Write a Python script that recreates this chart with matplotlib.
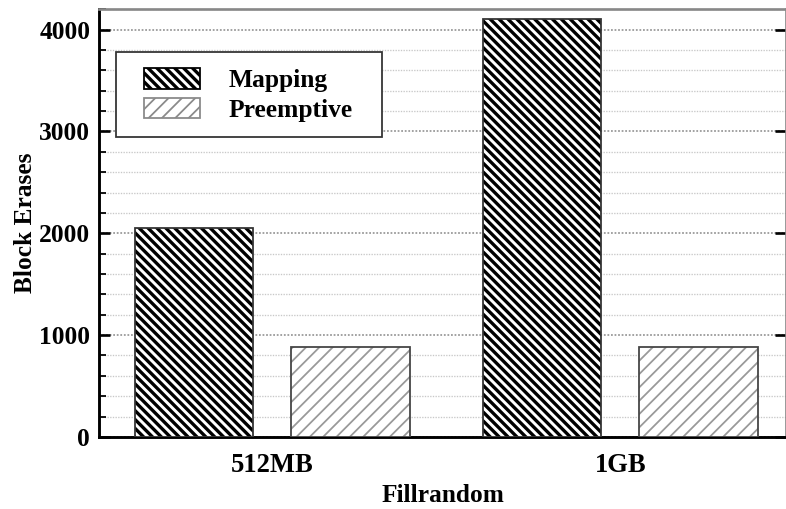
import numpy as np
import matplotlib
matplotlib.use('Agg')
import matplotlib.pyplot as plt
from matplotlib.patches import Patch, Rectangle
from matplotlib.ticker import MultipleLocator

plt.rcParams['font.family'] = ['Liberation Serif', 'DejaVu Serif']
plt.rcParams['font.weight'] = 'bold'

workloads = ['512MB', '1GB']
mapping = [2055, 4105]
preemptive = [880, 885]
series = ['Mapping', 'Preemptive']

MAP_HATCH = '\\' * 6
PRE_HATCH = '/' * 4

fig = plt.figure(figsize=(786 / 160, 509 / 160), dpi=160)
ax = fig.add_axes([0.126, 0.1415, 0.874, 0.8405])

x = np.arange(len(workloads))
w = 0.34
off = 0.225

# hatched fills, border drawn separately so hatch and edge colours can differ
with plt.rc_context({'hatch.linewidth': 1.5}):
    b1 = ax.bar(x - off, mapping, w, color='white', edgecolor='black',
                hatch=MAP_HATCH, linewidth=0, zorder=3)
with plt.rc_context({'hatch.linewidth': 0.8}):
    b2 = ax.bar(x + off, preemptive, w, color='white', edgecolor='#999999',
                hatch=PRE_HATCH, linewidth=0, zorder=3)
for bars, lw in ((b1, 1.5), (b2, 0.8)):
    for p in bars:
        if hasattr(p, 'set_hatch_linewidth'):
            p.set_hatch_linewidth(lw)
ax.bar(x - off, mapping, w, fill=False, edgecolor='#333333', linewidth=0.8, zorder=4)
ax.bar(x + off, preemptive, w, fill=False, edgecolor='#444444', linewidth=0.8, zorder=4)

ax.set_xlim(-0.498, 1.476)
ax.set_ylim(0, 4200)
ax.yaxis.set_major_locator(MultipleLocator(1000))
ax.yaxis.set_minor_locator(MultipleLocator(200))
ax.grid(axis='y', which='minor', linestyle=(0, (1, 1)), color='#c8c8c8', linewidth=0.6, zorder=0)
ax.grid(axis='y', which='major', linestyle=(0, (1, 1)), color='#999999', linewidth=0.8, zorder=0)

ax.set_xticks(x)
ax.set_xticklabels(workloads)
ax.tick_params(axis='x', length=0, pad=7, labelsize=12)
ax.tick_params(axis='y', which='major', direction='in', length=5, width=1.2,
               right=True, pad=4, labelsize=11.5)
ax.tick_params(axis='y', which='minor', direction='in', length=3, width=0.8)

for s in ('left', 'bottom'):
    ax.spines[s].set_linewidth(1.3)
    ax.spines[s].set_color('black')
for s in ('top', 'right'):
    ax.spines[s].set_linewidth(1.2)
    ax.spines[s].set_color('#888888')

ax.set_xlabel('Fillrandom', fontsize=11.4, fontweight='bold', labelpad=3)
ax.set_ylabel('Block Erases', fontsize=11.4, fontweight='bold', labelpad=1)

# legend frame drawn by hand (wider side padding than top/bottom)
ax.add_patch(Rectangle((0.0248, 0.701), 0.3877, 0.1985, transform=ax.transAxes,
                       facecolor='white', edgecolor='#333333', linewidth=0.8, zorder=5))

h1 = Patch(facecolor='white', edgecolor='black', hatch=MAP_HATCH, linewidth=0.8)
h2 = Patch(facecolor='white', edgecolor='#8a8a8a', hatch=PRE_HATCH, linewidth=0.8)
leg = ax.legend([h1, h2], series, loc='upper left', bbox_to_anchor=(0.0656, 0.862),
                borderaxespad=0, frameon=False, fontsize=11.5,
                handlelength=2.2, handleheight=0.85, handletextpad=1.1,
                labelspacing=0.22, borderpad=0)
leg.set_zorder(6)
for hnd, lw in zip(leg.legend_handles, (1.5, 0.8)):
    if hasattr(hnd, 'set_hatch_linewidth'):
        hnd.set_hatch_linewidth(lw)

fig.savefig('out.png', dpi=160)
